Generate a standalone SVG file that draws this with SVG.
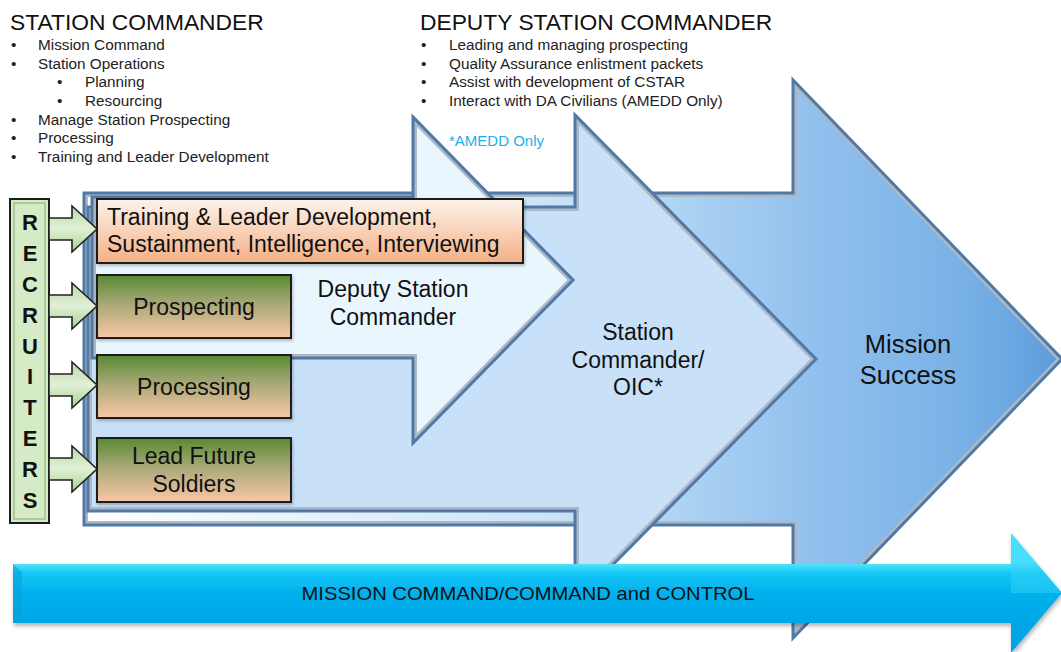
<svg xmlns="http://www.w3.org/2000/svg" xmlns:xlink="http://www.w3.org/1999/xlink" width="1061" height="652" viewBox="0 0 1061 652">
<style>
 .hdr{font-family:"Liberation Sans",Arial,sans-serif;font-size:22.8px;fill:#111}
 .bl{font-family:"Liberation Sans",Arial,sans-serif;font-size:15.3px;fill:#222}
 .lbl{font-family:"Liberation Sans",Arial,sans-serif;font-size:23px;fill:#111}
 .rec{font-family:"Liberation Sans",Arial,sans-serif;font-size:22px;font-weight:bold;fill:#111;text-anchor:middle}
 .box{stroke:#1c1c1c;stroke-width:2}
 .edge{fill:none;stroke:#4f7aa8;stroke-width:3;stroke-linejoin:miter}
 .bev{fill:none;stroke:#aeb8c4;stroke-width:8}
 .garrow{fill:url(#gGreenArrow);stroke:#222;stroke-width:1.6;stroke-linejoin:miter}
</style>
<defs>
 <linearGradient id="gMS" gradientUnits="userSpaceOnUse" x1="84" y1="0" x2="1062" y2="0">
  <stop offset="0" stop-color="#ffffff"/>
  <stop offset="0.45" stop-color="#cfe6f8"/>
  <stop offset="0.59" stop-color="#b2d6f4"/>
  <stop offset="0.73" stop-color="#95c2ee"/>
  <stop offset="0.9" stop-color="#78b1e6"/>
  <stop offset="1" stop-color="#5c9cdb"/>
 </linearGradient>
 <linearGradient id="gPeach" x1="0" y1="0" x2="0" y2="1">
  <stop offset="0" stop-color="#fdf3ec"/>
  <stop offset="1" stop-color="#f4b085"/>
 </linearGradient>
 <linearGradient id="gGreenBox" x1="0" y1="0" x2="0" y2="1">
  <stop offset="0" stop-color="#578a33"/>
  <stop offset="0.45" stop-color="#a8a877"/>
  <stop offset="1" stop-color="#f9c6a6"/>
 </linearGradient>
 <linearGradient id="gGreenArrow" x1="0" y1="0" x2="0" y2="1">
  <stop offset="0" stop-color="#b9d9a3"/>
  <stop offset="0.5" stop-color="#e1f0d6"/>
  <stop offset="1" stop-color="#a8cf8f"/>
 </linearGradient>
 <linearGradient id="gCyan" gradientUnits="userSpaceOnUse" x1="0" y1="562" x2="0" y2="625">
  <stop offset="0" stop-color="#5ee9fc"/>
  <stop offset="0.18" stop-color="#14c6f5"/>
  <stop offset="0.5" stop-color="#00b1ee"/>
  <stop offset="1" stop-color="#00a5e4"/>
 </linearGradient>
 <filter id="shadow" x="-5%" y="-5%" width="110%" height="130%">
  <feDropShadow dx="1" dy="3" stdDeviation="2" flood-color="#000" flood-opacity="0.3"/>
 </filter>
 <filter id="bshadow" x="-5%" y="-10%" width="110%" height="130%">
  <feDropShadow dx="1" dy="2" stdDeviation="1.5" flood-color="#000" flood-opacity="0.25"/>
 </filter>
 <path id="pMS" d="M84,193 H793 V80 L1062,359 L793,638 V525 H84 Z"/>
 <path id="pSC" d="M88,207 H575 V115 L816,359 L575,603 V511 H88 Z"/>
 <path id="pDSC" d="M92,197 H413 V117 L573,280 L413,443 V358 H92 Z"/>
 <clipPath id="cMS"><use xlink:href="#pMS"/></clipPath>
 <clipPath id="cSC"><use xlink:href="#pSC"/></clipPath>
 <clipPath id="cDSC"><use xlink:href="#pDSC"/></clipPath>
</defs>

<rect width="1061" height="652" fill="#ffffff"/>

<g id="station-commander-text">
 <text class="hdr" x="10" y="30">STATION COMMANDER</text>
 <text class="bl" x="11" y="50">•</text><text class="bl" x="38" y="50">Mission Command</text>
 <text class="bl" x="11" y="69">•</text><text class="bl" x="38" y="69">Station Operations</text>
 <text class="bl" x="57" y="87">•</text><text class="bl" x="85" y="87">Planning</text>
 <text class="bl" x="57" y="106">•</text><text class="bl" x="85" y="106">Resourcing</text>
 <text class="bl" x="11" y="125">•</text><text class="bl" x="38" y="125">Manage Station Prospecting</text>
 <text class="bl" x="11" y="143">•</text><text class="bl" x="38" y="143">Processing</text>
 <text class="bl" x="11" y="162">•</text><text class="bl" x="38" y="162">Training and Leader Development</text>
</g>

<g id="deputy-station-commander-text">
 <text class="hdr" x="420" y="30">DEPUTY STATION COMMANDER</text>
 <text class="bl" x="421" y="50">•</text><text class="bl" x="449" y="50">Leading and managing prospecting</text>
 <text class="bl" x="421" y="69">•</text><text class="bl" x="449" y="69">Quality Assurance enlistment packets</text>
 <text class="bl" x="421" y="87">•</text><text class="bl" x="449" y="87">Assist with development of CSTAR</text>
 <text class="bl" x="421" y="106">•</text><text class="bl" x="449" y="106">Interact with DA Civilians (AMEDD Only)</text>
</g>

<g id="mission-success">
 <use xlink:href="#pMS" fill="url(#gMS)"/>
 <use xlink:href="#pMS" class="bev" clip-path="url(#cMS)"/>
 <use xlink:href="#pMS" class="edge"/>
 <text class="lbl" style="font-size:25.5px" x="908" y="353" text-anchor="middle">Mission</text>
 <text class="lbl" style="font-size:25.5px" x="908" y="384" text-anchor="middle">Success</text>
</g>

<g id="station-commander-oic">
 <use xlink:href="#pSC" fill="#c8e1f9"/>
 <use xlink:href="#pSC" class="bev" clip-path="url(#cSC)"/>
 <use xlink:href="#pSC" class="edge"/>
 <text class="lbl" x="638" y="340" text-anchor="middle">Station</text>
 <text class="lbl" x="638" y="368" text-anchor="middle">Commander/</text>
 <text class="lbl" x="638" y="395" text-anchor="middle">OIC*</text>
</g>

<g id="deputy-station-commander">
 <use xlink:href="#pDSC" fill="#eaf6fd"/>
 <use xlink:href="#pDSC" class="bev" clip-path="url(#cDSC)"/>
 <use xlink:href="#pDSC" class="edge"/>
 <text class="lbl" x="393" y="297" text-anchor="middle">Deputy Station</text>
 <text class="lbl" x="393" y="325" text-anchor="middle">Commander</text>
</g>

<g id="amedd-note">
 <text x="449" y="146" style="font-family:'Liberation Sans',Arial,sans-serif;font-size:15px;fill:#1eaee8">*AMEDD Only</text>
</g>

<g id="box-training">
 <rect class="box" x="97" y="199" width="426" height="64" fill="url(#gPeach)" filter="url(#bshadow)"/>
 <text class="lbl" x="107" y="225">Training &amp; Leader Development,</text>
 <text class="lbl" x="107" y="252">Sustainment, Intelligence, Interviewing</text>
</g>

<g id="box-prospecting">
 <rect class="box" x="97" y="275" width="194" height="63" fill="url(#gGreenBox)" filter="url(#bshadow)"/>
 <text class="lbl" x="194" y="315" text-anchor="middle">Prospecting</text>
</g>

<g id="box-processing">
 <rect class="box" x="97" y="355" width="194" height="63" fill="url(#gGreenBox)" filter="url(#bshadow)"/>
 <text class="lbl" x="194" y="395" text-anchor="middle">Processing</text>
</g>

<g id="box-lead-future-soldiers">
 <rect class="box" x="97" y="438" width="194" height="64" fill="url(#gGreenBox)" filter="url(#bshadow)"/>
 <text class="lbl" x="194" y="464" text-anchor="middle">Lead Future</text>
 <text class="lbl" x="194" y="492" text-anchor="middle">Soldiers</text>
</g>

<g id="recruiters">
 <rect x="10" y="199" width="39" height="324" fill="#d4ebc6" stroke="#1c1c1c" stroke-width="2"/>
 <rect x="14" y="203" width="31" height="316" fill="none" stroke="#9fbf8c" stroke-width="1.5"/>
 <text class="rec" x="30" y="230">R</text>
 <text class="rec" x="30" y="261">E</text>
 <text class="rec" x="30" y="292">C</text>
 <text class="rec" x="30" y="323">R</text>
 <text class="rec" x="30" y="354">U</text>
 <text class="rec" x="30" y="384">I</text>
 <text class="rec" x="30" y="415">T</text>
 <text class="rec" x="30" y="446">E</text>
 <text class="rec" x="30" y="477">R</text>
 <text class="rec" x="30" y="508">S</text>
</g>

<g id="connectors">
 <path class="garrow" d="M49,218 H72 V206 L97,229 L72,252 V240 H49 Z"/>
 <path class="garrow" d="M49,295 H72 V283 L97,306 L72,329 V317 H49 Z"/>
 <path class="garrow" d="M49,374 H72 V362 L97,385 L72,408 V396 H49 Z"/>
 <path class="garrow" d="M49,458 H72 V446 L97,469 L72,492 V480 H49 Z"/>
</g>

<g id="mission-command-arrow">
 <path d="M13,564 H1011 V533 L1062,593 L1011,653 V623 H13 Z" fill="url(#gCyan)" filter="url(#shadow)"/>
 <path d="M1011,533 L1062,593 L1011,593 Z" fill="#33d4f8" opacity="0.5"/>
 <path d="M13,564 L22,572 V616 L13,623 Z" fill="#0aa0d8" opacity="0.6"/>
 <text x="528" y="600" text-anchor="middle" textLength="453" lengthAdjust="spacingAndGlyphs" style="font-family:'Liberation Sans',Arial,sans-serif;font-size:19px;fill:#111">MISSION COMMAND/COMMAND and CONTROL</text>
</g>
</svg>
